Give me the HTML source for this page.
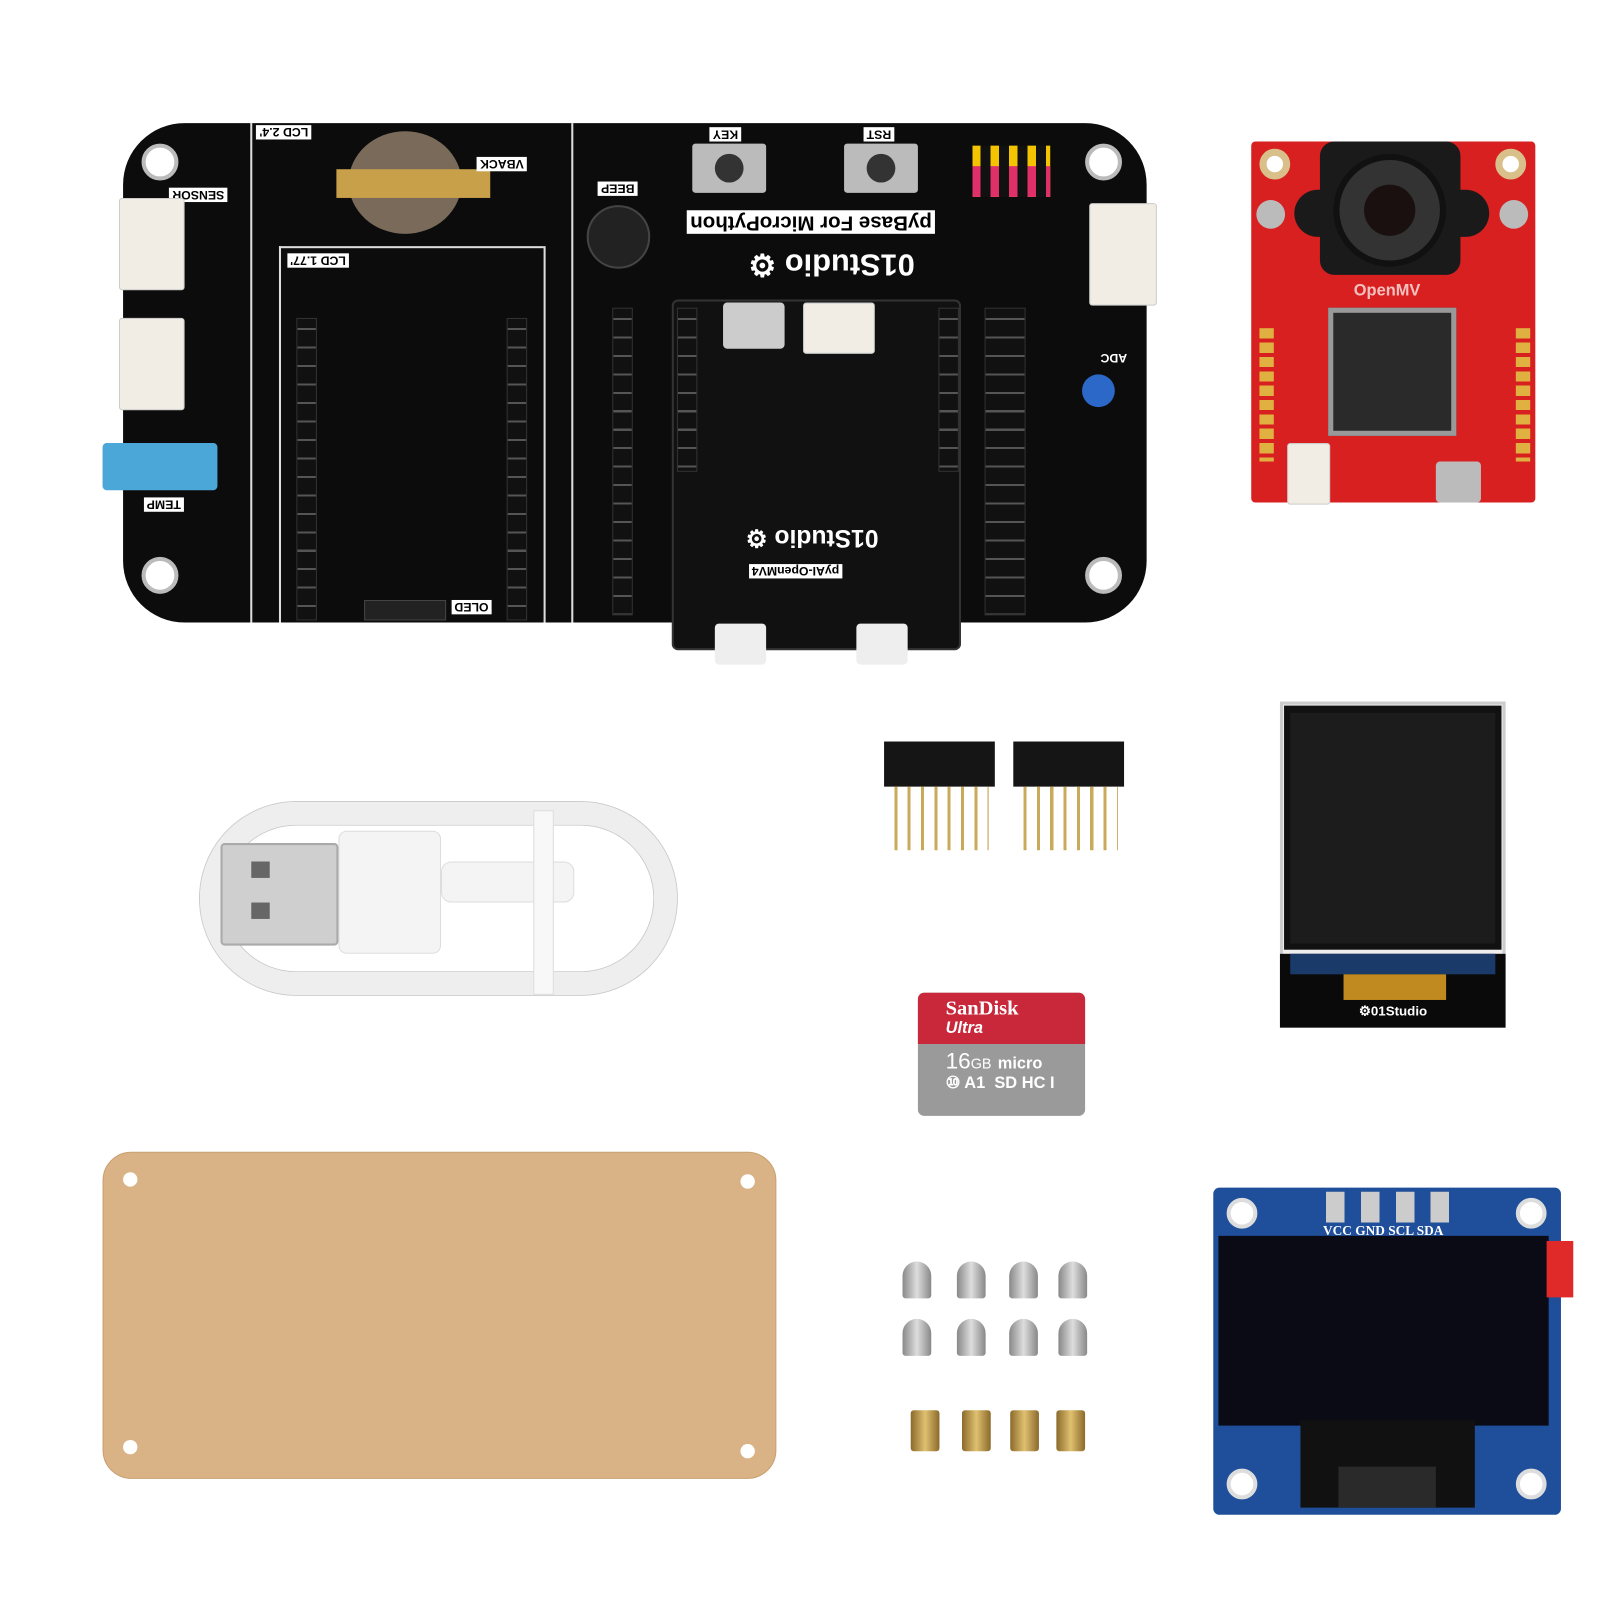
<!DOCTYPE html>
<html><head><meta charset="utf-8"><style>
body{margin:0;width:1600px;height:1600px;background:#fff;position:relative;overflow:hidden;font-family:"Liberation Sans",sans-serif}
#w{position:absolute;left:0;top:0;width:1560px;height:1560px;transform:scale(1.0256);transform-origin:0 0}
#w div{position:absolute;box-sizing:border-box}
.lbl{color:#000;background:#fff;font-size:12px;font-weight:bold;padding:0 3px;transform:rotate(180deg);white-space:nowrap}
.wl{color:#fff;font-size:10px;transform:rotate(180deg);white-space:nowrap}
.hole{border-radius:50%;background:#fff;border:4px solid #bbb}
.pins{background:repeating-linear-gradient(180deg,#111 0 9px,#555 9px 11px,#111 11px 18px);border:1px solid #333}
.conn{background:#f1ece4;border:1px solid #ccc;border-radius:3px}
.screw{width:28px;height:36px;background:linear-gradient(90deg,#888,#ddd,#888);border-radius:14px 14px 3px 3px}
.nut{width:28px;height:40px;background:linear-gradient(90deg,#8a6a2a,#e0c070,#8a6a2a);border-radius:3px}
</style></head><body><div id="w">

<!-- main board -->
<div style="left:120px;top:120px;width:998px;height:487px;background:#0c0c0c;border-radius:60px"></div>
<div style="left:655px;top:292px;width:282px;height:342px;background:#111;border:2px solid #333;border-radius:6px"></div>
<div style="left:697px;top:608px;width:50px;height:40px;background:#eee;border-radius:4px"></div>
<div style="left:835px;top:608px;width:50px;height:40px;background:#eee;border-radius:4px"></div>
<div class="hole" style="left:138px;top:140px;width:36px;height:36px"></div>
<div class="hole" style="left:1058px;top:140px;width:36px;height:36px"></div>
<div class="hole" style="left:138px;top:543px;width:36px;height:36px"></div>
<div class="hole" style="left:1058px;top:543px;width:36px;height:36px"></div>
<div style="left:244px;top:120px;width:2px;height:487px;background:#ddd"></div>
<div style="left:557px;top:120px;width:2px;height:487px;background:#ddd"></div>
<div style="left:272px;top:240px;width:258px;height:2px;background:#ddd"></div>
<div style="left:272px;top:240px;width:2px;height:367px;background:#ddd"></div>
<div style="left:530px;top:240px;width:2px;height:367px;background:#ddd"></div>
<div style="left:340px;top:128px;width:110px;height:100px;border-radius:50%;background:#7a6a5a"></div>
<div style="left:328px;top:165px;width:150px;height:28px;background:#c9a04a"></div>
<div class="lbl" style="left:250px;top:122px">LCD 2.4'</div>
<div class="lbl" style="left:465px;top:153px">VBACK</div>
<div class="lbl" style="left:165px;top:183px">SENSOR</div>
<div class="lbl" style="left:280px;top:247px">LCD 1.77'</div>
<div class="lbl" style="left:692px;top:124px">KEY</div>
<div class="lbl" style="left:842px;top:124px">RST</div>
<div class="lbl" style="left:670px;top:205px;font-size:20px">pyBase For MicroPython</div>
<div class="wl" style="left:730px;top:240px;font-size:30px;font-weight:bold">01Studio ⚙</div>
<div class="wl" style="left:727px;top:510px;font-size:24px;font-weight:bold">01Studio ⚙</div>
<div class="lbl" style="left:730px;top:550px">pyAI-OpenMV4</div>
<div class="lbl" style="left:440px;top:585px">OLED</div>
<div class="lbl" style="left:1070px;top:342px;background:none;color:#fff">ADC</div>
<div class="lbl" style="left:583px;top:177px">BEEP</div>
<div class="lbl" style="left:140px;top:485px">TEMP</div>
<div style="left:675px;top:140px;width:72px;height:48px;background:#bbb;border-radius:3px"></div>
<div style="left:697px;top:150px;width:28px;height:28px;background:#333;border-radius:50%"></div>
<div style="left:823px;top:140px;width:72px;height:48px;background:#bbb;border-radius:3px"></div>
<div style="left:845px;top:150px;width:28px;height:28px;background:#333;border-radius:50%"></div>
<div style="left:572px;top:200px;width:62px;height:62px;background:#222;border:2px solid #444;border-radius:50%"></div>
<div class="conn" style="left:116px;top:193px;width:64px;height:90px"></div>
<div class="conn" style="left:116px;top:310px;width:64px;height:90px"></div>
<div class="conn" style="left:1062px;top:198px;width:66px;height:100px"></div>
<div style="left:100px;top:432px;width:112px;height:46px;background:#4aa7d8;border-radius:4px"></div>
<div style="left:948px;top:142px;width:76px;height:50px;background:repeating-linear-gradient(90deg,#f5c400 0 8px,#111 8px 18px)"></div>
<div style="left:948px;top:162px;width:76px;height:30px;background:repeating-linear-gradient(90deg,#e0306a 0 8px,#111 8px 18px)"></div>
<div style="left:1055px;top:365px;width:32px;height:32px;background:#2b68c8;border-radius:50%"></div>
<div class="pins" style="left:289px;top:310px;width:20px;height:295px"></div>
<div class="pins" style="left:494px;top:310px;width:20px;height:295px"></div>
<div class="pins" style="left:597px;top:300px;width:20px;height:300px"></div>
<div class="pins" style="left:960px;top:300px;width:40px;height:300px"></div>
<div class="pins" style="left:660px;top:300px;width:20px;height:160px"></div>
<div class="pins" style="left:915px;top:300px;width:20px;height:160px"></div>
<div style="left:705px;top:295px;width:60px;height:45px;background:#ccc;border-radius:4px"></div>
<div class="conn" style="left:783px;top:295px;width:70px;height:50px"></div>
<div style="left:355px;top:585px;width:80px;height:20px;background:#222;border:1px solid #444"></div>

<!-- OpenMV camera -->
<div style="left:1220px;top:138px;width:277px;height:352px;background:#d82020;border-radius:4px"></div>
<div style="left:1287px;top:138px;width:137px;height:130px;background:#1a1a1a;border-radius:14px"></div>
<div style="left:1262px;top:185px;width:190px;height:46px;background:#1a1a1a;border-radius:23px"></div>
<div style="left:1300px;top:150px;width:110px;height:110px;background:#333;border-radius:50%;border:6px solid #111"></div>
<div style="left:1330px;top:180px;width:50px;height:50px;background:#1a1010;border-radius:50%"></div>
<div style="left:1295px;top:300px;width:125px;height:125px;background:#2a2a2a;border:5px solid #999"></div>
<div style="left:1228px;top:145px;width:30px;height:30px;background:#fff;border:7px solid #d9c08a;border-radius:50%"></div>
<div style="left:1458px;top:145px;width:30px;height:30px;background:#fff;border:7px solid #d9c08a;border-radius:50%"></div>
<div style="left:1225px;top:195px;width:28px;height:28px;background:#bbb;border-radius:50%"></div>
<div style="left:1462px;top:195px;width:28px;height:28px;background:#bbb;border-radius:50%"></div>
<div style="left:1228px;top:320px;width:14px;height:130px;background:repeating-linear-gradient(180deg,#e0b040 0 10px,#d82020 10px 14px)"></div>
<div style="left:1478px;top:320px;width:14px;height:130px;background:repeating-linear-gradient(180deg,#e0b040 0 10px,#d82020 10px 14px)"></div>
<div style="left:1320px;top:275px;color:#f3c0c0;font-size:16px;font-weight:bold">OpenMV</div>
<div class="conn" style="left:1255px;top:432px;width:42px;height:60px"></div>
<div style="left:1400px;top:450px;width:44px;height:40px;background:#bbb;border-radius:4px"></div>

<!-- pin headers loose -->
<div style="left:862px;top:723px;width:108px;height:44px;background:#151515"></div>
<div style="left:872px;top:767px;width:92px;height:62px;background:repeating-linear-gradient(90deg,#c9a95a 0 3px,transparent 3px 13px)"></div>
<div style="left:988px;top:723px;width:108px;height:44px;background:#151515"></div>
<div style="left:998px;top:767px;width:92px;height:62px;background:repeating-linear-gradient(90deg,#c9a95a 0 3px,transparent 3px 13px)"></div>

<!-- USB cable -->
<div style="left:195px;top:782px;width:465px;height:188px;border:22px solid #eee;border-radius:94px;box-shadow:0 0 0 1px #ccc, inset 0 0 0 1px #ccc"></div>
<div style="left:215px;top:822px;width:115px;height:100px;background:#cfcfcf;border:2px solid #aaa;border-radius:4px"></div>
<div style="left:245px;top:840px;width:18px;height:16px;background:#666"></div>
<div style="left:245px;top:880px;width:18px;height:16px;background:#666"></div>
<div style="left:330px;top:810px;width:100px;height:120px;background:#f4f4f4;border:1px solid #ddd;border-radius:8px"></div>
<div style="left:430px;top:840px;width:130px;height:40px;background:#f4f4f4;border:1px solid #ddd;border-radius:10px"></div>
<div style="left:520px;top:790px;width:20px;height:180px;background:#f8f8f8;border:1px solid #ddd"></div>

<!-- LCD -->
<div style="left:1248px;top:684px;width:220px;height:318px;background:#eee;border:3px solid #ccc"></div>
<div style="left:1252px;top:688px;width:212px;height:238px;background:#111"></div>
<div style="left:1258px;top:695px;width:200px;height:225px;background:#1c1c1c"></div>
<div style="left:1248px;top:930px;width:220px;height:72px;background:#0a0a0a"></div>
<div style="left:1258px;top:930px;width:200px;height:20px;background:#1a3a6a"></div>
<div style="left:1310px;top:950px;width:100px;height:25px;background:#c08a20"></div>
<div class="wl" style="left:1325px;top:978px;transform:none;font-size:13px;font-weight:bold">⚙01Studio</div>

<!-- SD card -->
<div style="left:895px;top:968px;width:163px;height:120px;background:#9a9a9a;border-radius:6px"></div>
<div style="left:895px;top:968px;width:163px;height:50px;background:#c8283a;border-radius:6px 6px 0 0"></div>
<div style="left:922px;top:972px;color:#fff;font-family:'Liberation Serif',serif;font-size:20px;font-weight:bold">SanDisk</div>
<div style="left:922px;top:994px;color:#fff;font-size:16px;font-style:italic;font-weight:bold">Ultra</div>
<div style="left:922px;top:1022px;color:#fff;font-size:22px">16<span style="font-size:14px">GB</span> <span style="font-size:16px;font-weight:bold">micro</span></div>
<div style="left:922px;top:1046px;color:#fff;font-size:16px;font-weight:bold">⑩ A1 &nbsp;SD HC I</div>

<!-- acrylic plate -->
<div style="left:100px;top:1123px;width:657px;height:319px;background:#d9b285;border-radius:28px;border:1px solid #c9a070"></div>
<div style="left:120px;top:1143px;width:14px;height:14px;border-radius:50%;background:#fff"></div>
<div style="left:722px;top:1145px;width:14px;height:14px;border-radius:50%;background:#fff"></div>
<div style="left:120px;top:1404px;width:14px;height:14px;border-radius:50%;background:#fff"></div>
<div style="left:722px;top:1408px;width:14px;height:14px;border-radius:50%;background:#fff"></div>

<!-- screws -->
<div class="screw" style="left:880px;top:1230px"></div><div class="screw" style="left:933px;top:1230px"></div><div class="screw" style="left:984px;top:1230px"></div><div class="screw" style="left:1032px;top:1230px"></div>
<div class="screw" style="left:880px;top:1286px"></div><div class="screw" style="left:933px;top:1286px"></div><div class="screw" style="left:984px;top:1286px"></div><div class="screw" style="left:1032px;top:1286px"></div>
<div class="nut" style="left:888px;top:1375px"></div><div class="nut" style="left:938px;top:1375px"></div><div class="nut" style="left:985px;top:1375px"></div><div class="nut" style="left:1030px;top:1375px"></div>

<!-- OLED -->
<div style="left:1183px;top:1158px;width:339px;height:319px;background:#1f4f9a;border-radius:6px"></div>
<div class="hole" style="left:1196px;top:1168px;width:30px;height:30px;border-color:#ddd"></div>
<div class="hole" style="left:1478px;top:1168px;width:30px;height:30px;border-color:#ddd"></div>
<div class="hole" style="left:1196px;top:1432px;width:30px;height:30px;border-color:#ddd"></div>
<div class="hole" style="left:1478px;top:1432px;width:30px;height:30px;border-color:#ddd"></div>
<div style="left:1285px;top:1162px;width:135px;height:30px;background:repeating-linear-gradient(90deg,#1f4f9a 0 8px,#ccc 8px 26px,#1f4f9a 26px 34px)"></div>
<div style="left:1290px;top:1192px;color:#fff;font-family:'Liberation Serif',serif;font-size:13px;font-weight:bold">VCC GND SCL SDA</div>
<div style="left:1188px;top:1205px;width:322px;height:185px;background:#0b0b16"></div>
<div style="left:1508px;top:1210px;width:26px;height:55px;background:#e02a2a"></div>
<div style="left:1268px;top:1385px;width:170px;height:85px;background:#111"></div>
<div style="left:1305px;top:1430px;width:95px;height:40px;background:#2a2a2a"></div>
</div></body></html>
